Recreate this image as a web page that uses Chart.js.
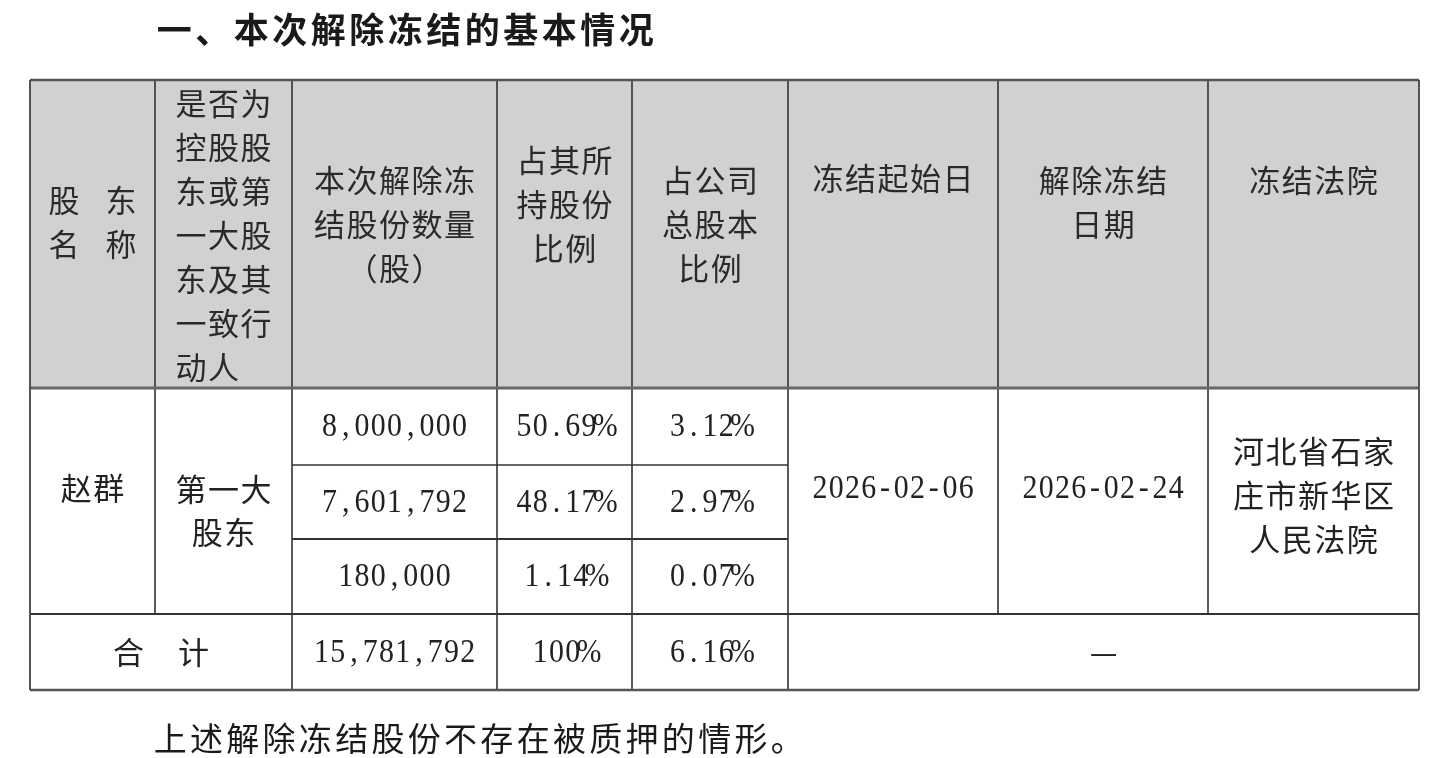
<!DOCTYPE html>
<html>
<head>
<meta charset="utf-8">
<script src="https://cdn.jsdelivr.net/npm/chart.js@4.4.1/dist/chart.umd.min.js"></script>
<style>
  html, body { margin: 0; padding: 0; background: #ffffff; }
  #wrap { position: absolute; left: 0; top: 0; width: 1439px; height: 758px; }
</style>
</head>
<body>
<div id="wrap"><canvas id="c" width="1439" height="758"></canvas></div>
<script>
// ---------- data ----------
const titleText = '一、本次解除冻结的基本情况';
const footnoteText = '上述解除冻结股份不存在被质押的情形。';
const headerLabels = [
  '股　东\n名　称',
  '是否为\n控股股\n东或第\n一大股\n东及其\n一致行\n动人',
  '本次解除冻\n结股份数量\n（股）',
  '占其所\n持股份\n比例',
  '占公司\n总股本\n比例',
  '冻结起始日',
  '解除冻结\n日期',
  '冻结法院'
];
const holderName = '赵群';
const holderType = '第一大\n股东';
const releasedShares = [8000000, 7601792, 180000];
const pctOfHoldings = [50.69, 48.17, 1.14];
const pctOfTotalShares = [3.12, 2.97, 0.07];
const freezeStartDate = '2026-02-06';
const freezeReleaseDate = '2026-02-24';
const freezeCourt = '河北省石家\n庄市新华区\n人民法院';
const totalLabel = '合　计';
const totalShares = 15781792;
const totalPctOfHoldings = 100;
const totalPctOfTotalShares = 6.16;
const totalRestLabel = '—';

// ---------- layout (positions in scale units) ----------
const colEdges = [30, 155, 292, 497, 632, 788, 998, 1208, 1419];
const rowEdges = [80, 388, 465, 539, 614, 690];
const headerFirstLine = [200, 103, 180, 160, 180, 178, 180, 180];
const headerAdvance = [28.5, 32.5, 32.5, 32.5, 32.5, 32.5, 32.5, 32.5];
const headerLineGap = 44;
const bodyLineGap = 43;

const fmtInt = n => n.toLocaleString('en-US');
const fmtPct = v => (v === 100 ? '100' : v.toFixed(2)) + '%';

function isWide(ch) { return ch.charCodeAt(0) > 0x2000; }
function strWidth(str, adv) { let w = 0; for (const ch of str) w += isWide(ch) ? adv : adv / 2; return w; }
function drawStr(ctx, str, x, y, o) {
  const adv = o.adv;
  const w = strWidth(str, adv);
  let cx = o.align === 'left' ? x : x - w / 2;
  ctx.fillStyle = o.color || '#222';
  ctx.textAlign = 'center';
  ctx.textBaseline = 'middle';
  for (const ch of str) {
    const wide = isWide(ch);
    const cw = wide ? adv : adv / 2;
    ctx.font = wide
      ? `${o.weight || 400} ${o.size}px "Noto Sans CJK SC"`
      : `${o.weight || 400} ${o.latin || o.size}px "Liberation Serif"`;
    ctx.save();
    ctx.translate(cx + cw / 2, y + (wide ? 0 : 1));
    if (!wide) ctx.scale(0.88, 1);
    ctx.fillText(ch, 0, 0);
    ctx.restore();
    cx += cw;
  }
}
function drawLines(ctx, text, x, y0, gap, o) {
  text.split('\n').forEach((ln, i) => drawStr(ctx, ln, x, y0 + i * gap, o));
}

const tablePlugin = {
  id: 'tablePlugin',
  afterDraw(chart) {
    const ctx = chart.ctx;
    const xs = chart.scales.x, ys = chart.scales.y;
    const X = v => xs.getPixelForValue(v);
    const Y = v => ys.getPixelForValue(v);
    const C = i => (X(colEdges[i]) + X(colEdges[i + 1])) / 2;
    const Cspan = (a, b) => (X(colEdges[a]) + X(colEdges[b])) / 2;
    const R = i => (Y(rowEdges[i]) + Y(rowEdges[i + 1])) / 2;
    ctx.save();

    // header fill
    ctx.fillStyle = '#d1d0d2';
    ctx.fillRect(X(colEdges[0]), Y(rowEdges[0]), X(colEdges[8]) - X(colEdges[0]), Y(rowEdges[1]) - Y(rowEdges[0]));

    // title & footnote
    drawStr(ctx, titleText, X(155), Y(30), { adv: 38.5, size: 35, weight: 700, color: '#1a1a1a', align: 'left' });
    drawStr(ctx, footnoteText, X(152), Y(738), { adv: 36.3, size: 33, color: '#1a1a1a', align: 'left' });

    // header texts
    headerLabels.forEach((lab, i) => {
      const hOpt = { adv: headerAdvance[i], size: 31, color: '#2a2a2a' };
      if (i === 1) {
        const left = C(1) - 1.5 * hOpt.adv;
        drawLines(ctx, lab, left, Y(headerFirstLine[i]), headerLineGap, Object.assign({}, hOpt, { align: 'left' }));
      } else {
        drawLines(ctx, lab, C(i), Y(headerFirstLine[i]), headerLineGap, hOpt);
      }
    });

    // body texts
    const bOpt = { adv: 32.5, size: 31, latin: 34, color: '#222' };
    drawStr(ctx, holderName, C(0), Y(488), bOpt);
    drawLines(ctx, holderType, C(1), Y(489), bodyLineGap, bOpt);
    for (let r = 0; r < 3; r++) {
      drawStr(ctx, fmtInt(releasedShares[r]), C(2), R(r + 1), bOpt);
      drawStr(ctx, fmtPct(pctOfHoldings[r]), C(3), R(r + 1), bOpt);
      drawStr(ctx, fmtPct(pctOfTotalShares[r]), C(4), R(r + 1), bOpt);
    }
    drawStr(ctx, freezeStartDate, C(5), Y(488), bOpt);
    drawStr(ctx, freezeReleaseDate, C(6), Y(488), bOpt);
    drawLines(ctx, freezeCourt, C(7), Y(451), bodyLineGap + 1, bOpt);
    // totals
    drawStr(ctx, totalLabel, Cspan(0, 2), R(4), bOpt);
    drawStr(ctx, fmtInt(totalShares), C(2), R(4), bOpt);
    drawStr(ctx, fmtPct(totalPctOfHoldings), C(3), R(4), bOpt);
    drawStr(ctx, fmtPct(totalPctOfTotalShares), C(4), R(4), bOpt);
    drawStr(ctx, totalRestLabel, Cspan(5, 8), R(4), Object.assign({}, bOpt, { adv: 30 }));

    // grid lines
    const line = (x1, y1, x2, y2, w, col) => {
      ctx.beginPath(); ctx.lineWidth = w; ctx.strokeStyle = col;
      ctx.moveTo(X(x1), Y(y1)); ctx.lineTo(X(x2), Y(y2)); ctx.stroke();
    };
    const top = rowEdges[0], bot = rowEdges[5];
    const L = colEdges[0], Rr = colEdges[8];
    // verticals
    for (let i = 1; i < 8; i++) {
      let yEnd = bot;
      if (i === 1) yEnd = rowEdges[4];
      if (i === 6 || i === 7) yEnd = rowEdges[4];
      line(colEdges[i], top, colEdges[i], yEnd, 1.6, '#333');
    }
    // horizontals
    line(L, rowEdges[1], Rr, rowEdges[1], 3, '#666');
    line(colEdges[2], rowEdges[2], colEdges[5], rowEdges[2], 1.6, '#333');
    line(colEdges[2], rowEdges[3], colEdges[5], rowEdges[3], 2.2, '#333');
    line(L, rowEdges[4], Rr, rowEdges[4], 1.8, '#333');
    // outer border
    line(L, top, Rr, top, 2.4, '#555');
    line(L, bot, Rr, bot, 2.4, '#555');
    line(L, top, L, bot, 1.8, '#444');
    line(Rr, top, Rr, bot, 1.8, '#444');
    ctx.restore();
  }
};

new Chart(document.getElementById('c'), {
  type: 'scatter',
  data: { datasets: [{ data: [], pointRadius: 0 }] },
  options: {
    responsive: false,
    animation: false,
    events: [],
    layout: { padding: 0 },
    plugins: { legend: { display: false }, tooltip: { enabled: false }, title: { display: false } },
    scales: {
      x: { type: 'linear', min: 0, max: 1439, display: false },
      y: { type: 'linear', min: 0, max: 758, reverse: true, display: false }
    }
  },
  plugins: [tablePlugin]
});
</script>
</body>
</html>
